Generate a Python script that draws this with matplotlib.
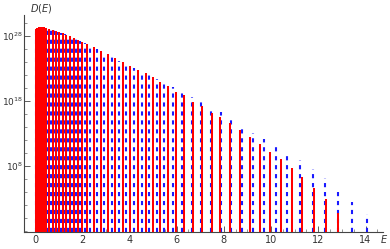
import numpy as np
import matplotlib
matplotlib.use("Agg")
import matplotlib.pyplot as plt
from matplotlib.ticker import FixedLocator, MultipleLocator

# === Data (E positions, log10 of D(E) at bar tops) ===
red_E = [0.02, 0.06, 0.10, 0.15, 0.20, 0.26, 0.32, 0.39, 0.46, 0.60, 0.74, 0.88,
         1.02, 1.17, 1.32, 1.48, 1.65, 1.83, 2.01, 2.20, 2.48,
         2.80, 3.09, 3.40, 3.71, 4.04, 4.37, 4.68, 4.99, 5.30, 5.62, 5.98, 6.30,
         6.68, 7.06, 7.48, 7.83, 8.26, 8.68, 9.10, 9.54, 9.96, 10.41, 10.87,
         11.32, 11.81, 12.33, 12.84]
red_logD = [28.46, 29.08, 29.23, 29.38, 29.38, 29.38, 29.38, 29.31, 29.23, 29.08,
            28.92, 28.75, 28.57, 28.38, 28.18, 27.95, 27.70, 27.42, 27.10, 26.77,
            26.23, 25.62, 25.15, 24.62, 24.00, 23.38, 22.77,
            22.31, 21.69, 20.92, 20.31, 19.38, 18.92, 17.85, 17.23, 16.15, 15.54,
            14.62, 13.54, 12.46, 11.38, 10.15, 9.08, 7.69, 6.31, 4.62, 2.92, 0.77]

blue_E = [0.04, 0.12, 0.22, 0.35, 0.53, 0.67, 0.81, 0.95, 1.10, 1.25, 1.40, 1.57,
          1.74, 1.92, 2.10, 2.33, 2.64, 2.94, 3.25, 3.56, 3.87, 4.19, 4.52, 4.83,
          5.16, 5.48, 5.86, 6.24, 6.64, 7.03, 7.44, 7.88, 8.31, 8.75, 9.22, 9.70,
          10.21, 10.69, 11.23, 11.77, 12.29, 12.85, 13.44, 14.05]
blue_logD = [29.08, 29.23, 29.31, 29.31, 29.15, 29.00, 28.83, 28.65, 28.46, 28.27,
             28.06, 27.82, 27.56, 27.26, 26.94, 26.62, 26.00, 25.38, 24.77, 24.15,
             23.69, 23.08, 22.50, 22.00, 21.40, 20.80, 20.15, 19.50, 18.65, 17.90,
             17.00, 16.25, 15.38, 14.15, 13.08, 12.15, 11.23, 10.15, 8.92, 7.54,
             6.15, 4.31, 2.46, 0.62]

y_ticks = [1e8, 1e18, 1e28]
y_ticklabels = [r"$10^{8}$", r"$10^{18}$", r"$10^{28}$"]
x_ticks = [0, 2, 4, 6, 8, 10, 12, 14]

# === Figure ===
fig = plt.figure(figsize=(3.9, 2.49), dpi=100)
ax = fig.add_axes([0.062, 0.068, 0.920, 0.872])

ymin = 10 ** -2.15
ymax = 10 ** 31.2
ax.set_yscale("log")
ax.set_xlim(-0.46, 14.74)
ax.set_ylim(ymin, ymax)

# blue dotted lines (under the red bars)
ax.vlines(blue_E, ymin, 10 ** np.array(blue_logD), colors="#1a1aff",
          linewidth=1.5, linestyles=(0, (2.0, 2.3)), zorder=2)
# red bars
ax.vlines(red_E, ymin, 10 ** np.array(red_logD), colors="#ff0000",
          linewidth=1.45, zorder=3)

# === Axes style ===
for s in ["top", "right"]:
    ax.spines[s].set_visible(False)
for s in ["left", "bottom"]:
    ax.spines[s].set_color("#444444")
    ax.spines[s].set_linewidth(0.8)

ax.set_xticks(x_ticks)
ax.xaxis.set_minor_locator(MultipleLocator(0.5))
ax.set_yticks(y_ticks)
ax.set_yticklabels(y_ticklabels)
ax.yaxis.set_minor_locator(FixedLocator([10.0 ** k for k in range(-2, 32, 2)]))
ax.tick_params(axis="x", which="major", direction="in", length=4,
               width=0.6, color="#444444", labelsize=7, labelcolor="#333333", pad=2)
ax.tick_params(axis="y", which="major", direction="in", length=4,
               width=0.6, color="#444444", labelsize=6.5, labelcolor="#333333", pad=1)
ax.tick_params(axis="both", which="minor", direction="in", length=2,
               width=0.5, color="#666666")
ax.yaxis.set_minor_formatter(plt.NullFormatter())

fig.text(0.078, 0.965, r"$D(E)$", fontsize=7, color="#333333", ha="left", va="center")
fig.text(0.985, 0.04, r"$E$", fontsize=7, color="#333333", ha="center", va="center")

fig.savefig("out.png", dpi=100)
